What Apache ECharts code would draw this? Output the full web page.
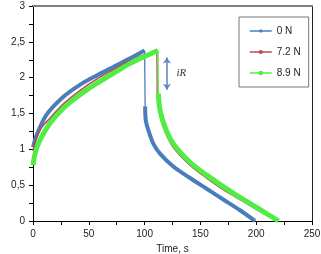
<!DOCTYPE html>
<html lang="en">
<head>
    <meta charset="UTF-8">
    <title>ECharts</title>
    <script src="https://cdn.jsdelivr.net/npm/echarts@6/dist/echarts.min.js"></script>
</head>
<body style="margin:0">
    <div id="main" style="width: 321px;height:254px;"></div>
    <script type="text/javascript">
    // values: time (s) and potential (V)
    var names = ['0 N', '7.2 N', '8.9 N'];
    var colors = ['#4a7ebb', '#be4b48', '#50ee44'];
    var widths = [4, 1.6, 5];
    var symbols = ['diamond', 'circle', 'rect'];

    var blueChargeT = [0, 3.3, 12, 27, 42, 57, 72, 87, 100];
    var blueChargeV = [1.03, 1.2, 1.48, 1.73, 1.9, 2.03, 2.15, 2.27, 2.38];
    var blueDropT = [100, 100.5];
    var blueDropV = [2.38, 1.6];
    var blueDisT = [100.5, 101, 103.3, 107.8, 113.8, 125.7, 140.7, 155.6, 170.5, 185.5, 199];
    var blueDisV = [1.6, 1.41, 1.27, 1.08, 0.94, 0.76, 0.6, 0.45, 0.3, 0.15, 0];

    var redChargeT = [0, 3, 8, 15, 27, 42, 57, 72, 87, 102, 111];
    var redChargeV = [0.98, 1.16, 1.31, 1.43, 1.63, 1.82, 1.98, 2.11, 2.24, 2.33, 2.37];
    var redDropT = [111, 111.3];
    var redDropV = [2.37, 1.72];
    var redDisT = [111.3, 113.5, 118, 125.7, 140.7, 155.6, 170.5, 185.5, 200.4, 219];
    var redDisV = [1.72, 1.5, 1.26, 1.03, 0.78, 0.6, 0.44, 0.3, 0.16, 0];

    var greenChargeT = [0, 2, 6.3, 15, 27, 42, 57, 72, 87, 102, 112];
    var greenChargeV = [0.78, 0.95, 1.13, 1.36, 1.57, 1.76, 1.92, 2.06, 2.2, 2.31, 2.38];
    var greenDropT = [112, 112.3];
    var greenDropV = [2.38, 1.78];
    var greenDisT = [112.3, 113.8, 118.3, 125.7, 140.7, 155.6, 170.5, 185.5, 200.4, 220];
    var greenDisV = [1.78, 1.55, 1.31, 1.08, 0.82, 0.64, 0.48, 0.33, 0.19, 0];

    var xTicks = [0, 250, 50];
    var yTicks = [0, 3, 0.5];
    var iRArrow = [[120, 2.28], [120, 1.83]];
    var iRLabel = [133, 2.06];

    function pairs(t, v) {
        return t.map(function (x, i) { return [x, v[i]]; });
    }

    var sets = [
        [pairs(blueChargeT, blueChargeV), pairs(blueDropT, blueDropV), pairs(blueDisT, blueDisV)],
        [pairs(redChargeT, redChargeV), pairs(redDropT, redDropV), pairs(redDisT, redDisV)],
        [pairs(greenChargeT, greenChargeV), pairs(greenDropT, greenDropV), pairs(greenDisT, greenDisV)]
    ];

    var series = [];
    sets.forEach(function (parts, k) {
        parts.forEach(function (d, j) {
            series.push({
                name: names[k],
                type: 'line',
                data: d,
                smooth: j === 1 ? false : 0.3,
                symbol: symbols[k],
                symbolSize: 4,
                showSymbol: false,
                lineStyle: {color: colors[k], width: j === 1 ? 1.3 : widths[k]},
                itemStyle: {color: colors[k]},
                z: 2 + k
            });
        });
    });

    series[series.length - 1].markLine = {
        silent: true,
        symbol: ['arrow', 'arrow'],
        symbolSize: 6,
        label: {show: false},
        lineStyle: {color: '#5b86c0', width: 1.5, type: 'solid'},
        data: [[{coord: iRArrow[0]}, {coord: iRArrow[1]}]]
    };
    series[series.length - 1].markPoint = {
        silent: true,
        symbol: 'circle',
        symbolSize: 0,
        label: {show: true, position: 'inside', formatter: 'iR', fontStyle: 'italic',
                fontFamily: 'Liberation Serif', fontSize: 11, color: '#333'},
        data: [{coord: iRLabel}]
    };

    var font = 'Liberation Sans';
    var myChart = echarts.init(document.getElementById('main'));
    var option = {
        animation: false,
        textStyle: {fontFamily: font},
        grid: {left: 33, right: 9, top: 6, bottom: 33, containLabel: false, outerBoundsMode: 'none'},
        legend: {
            data: names,
            orient: 'vertical',
            left: 239,
            top: 17,
            width: 65,
            padding: [8, 8, 8, 10],
            itemGap: 9,
            itemWidth: 22,
            itemHeight: 5,
            backgroundColor: '#fff',
            borderColor: '#777',
            borderWidth: 1,
            lineStyle: {width: 1.5},
            textStyle: {fontSize: 10, color: '#222', fontFamily: font, lineHeight: 12}
        },
        xAxis: [{
            type: 'value',
            min: xTicks[0], max: xTicks[1], interval: xTicks[2],
            name: 'Time, s',
            nameLocation: 'middle',
            nameGap: 20,
            nameTextStyle: {fontSize: 10, color: '#222'},
            axisLine: {lineStyle: {color: '#000', width: 1}},
            axisTick: {length: 4, lineStyle: {color: '#000'}},
            minorTick: {show: true, splitNumber: 2, length: 4, lineStyle: {color: '#000'}},
            axisLabel: {fontSize: 10, color: '#222', margin: 8},
            splitLine: {show: false}
        }, {
            type: 'value', position: 'top',
            min: xTicks[0], max: xTicks[1],
            axisLine: {show: true, onZero: false, lineStyle: {color: '#808080', width: 2}},
            axisTick: {show: false}, axisLabel: {show: false}, splitLine: {show: false}
        }],
        yAxis: [{
            type: 'value',
            min: yTicks[0], max: yTicks[1], interval: yTicks[2],
            name: 'Potential, V',
            nameLocation: 'middle',
            nameGap: 20,
            nameTextStyle: {fontSize: 10, color: '#222'},
            axisLine: {show: true, onZero: false, lineStyle: {color: '#000', width: 1}},
            axisTick: {show: true, length: 4, lineStyle: {color: '#000'}},
            minorTick: {show: true, splitNumber: 2, length: 4, lineStyle: {color: '#000'}},
            axisLabel: {fontSize: 10, color: '#222', margin: 8,
                formatter: function (v) { return String(v).replace('.', ','); }},
            splitLine: {show: false}
        }, {
            type: 'value', position: 'right',
            min: yTicks[0], max: yTicks[1],
            axisLine: {show: true, onZero: false, lineStyle: {color: '#222', width: 1}},
            axisTick: {show: false}, axisLabel: {show: false}, splitLine: {show: false}
        }],
        series: series
    };
    myChart.setOption(option);
    </script>
</body>
</html>
